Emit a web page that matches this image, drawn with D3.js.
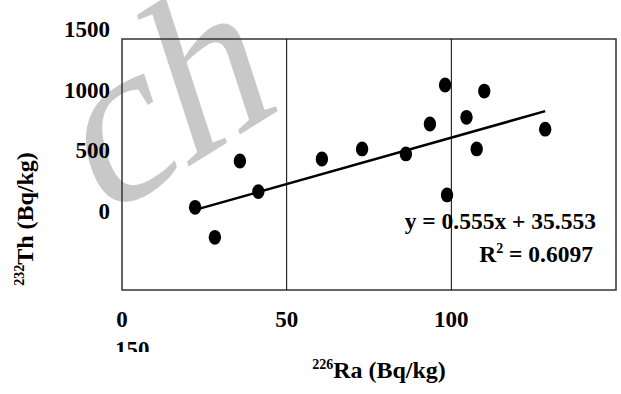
<!DOCTYPE html>
<html>
<head>
<meta charset="utf-8">
<script src="https://cdn.jsdelivr.net/npm/d3@7/dist/d3.min.js"></script>
<style>
  html, body { margin: 0; padding: 0; background: #fff; }
  svg { display: block; }
  text.lbl { font-family: "Liberation Serif", "Times New Roman", serif; font-weight: bold; fill: #000; }
  text.wm { font-family: "Liberation Serif", serif; font-style: normal; font-weight: normal; fill: #c8c8c8; }
</style>
</head>
<body>
<svg id="chart" width="621" height="394"></svg>
<script>
// ---- data ----
const raValues = [22.2, 28.2, 35.8, 41.4, 60.7, 72.9, 86.2, 93.5, 98.1, 98.7, 104.6, 107.7, 110.0, 128.5];
const thValues = [49.4, 31.5, 77.1, 58.8, 78.3, 84.3, 81.3, 99.2, 122.5, 56.8, 103.2, 84.3, 118.9, 96.1];
const xTickLabels = ["0", "50", "100", "150"];
const yTickLabels = ["1500", "1000", "500", "0"];
const gridValues = [50, 100];
const trendSlope = 0.555;
const trendIntercept = 35.553;
const equationText = "y = 0.555x + 35.553";
const r2Text = "0.6097";

const svg = d3.select("#chart");
svg.append("rect").attr("width", 621).attr("height", 394).attr("fill", "#fff");

// watermark
svg.append("text").attr("class", "wm")
  .attr("transform", "translate(100,222) rotate(-32) skewX(-14)")
  .attr("font-size", 225)
  .text("ch");

const x = d3.scaleLinear().domain([0, 150]).range([122, 616]);
const y = d3.scaleLinear().domain([0, 150]).range([290, 39]);
const yLab = d3.scaleLinear().domain([0, 1500]).range([219, 37]);

// frame
svg.append("rect")
  .attr("x", x(0)).attr("y", y(150))
  .attr("width", x(150) - x(0)).attr("height", y(0) - y(150))
  .attr("fill", "none").attr("stroke", "#333").attr("stroke-width", 1.5);

// gridlines
svg.selectAll("line.grid").data(gridValues).join("line")
  .attr("class", "grid")
  .attr("x1", d => x(d)).attr("x2", d => x(d))
  .attr("y1", y(150)).attr("y2", y(0))
  .attr("stroke", "#000").attr("stroke-width", 1);

// y tick labels
svg.selectAll("text.ytick").data(yTickLabels).join("text")
  .attr("class", "ytick lbl")
  .attr("x", 110).attr("y", d => yLab(+d))
  .attr("text-anchor", "end").attr("font-size", 23)
  .text(d => d);

// x tick labels (last one wraps to a second line and is clipped)
svg.append("clipPath").attr("id", "xclip")
  .append("rect").attr("x", 0).attr("y", 300).attr("width", 621).attr("height", 52);
const xt = svg.append("g").attr("clip-path", "url(#xclip)");
xTickLabels.forEach((lab, i) => {
  const v = +lab;
  const last = i === xTickLabels.length - 1;
  xt.append("text").attr("class", "lbl")
    .attr("x", last ? x(0) - 7 : x(v))
    .attr("y", last ? 357 : 327)
    .attr("text-anchor", last ? "start" : "middle")
    .attr("font-size", 23)
    .text(lab);
});

// trend line
const xMin = d3.min(raValues), xMax = d3.max(raValues);
svg.append("line")
  .attr("x1", x(xMin)).attr("y1", y(trendSlope * xMin + trendIntercept))
  .attr("x2", x(xMax)).attr("y2", y(trendSlope * xMax + trendIntercept))
  .attr("stroke", "#000").attr("stroke-width", 2.5);

// points
svg.selectAll("ellipse.pt").data(raValues.map((r, i) => [r, thValues[i]])).join("ellipse")
  .attr("class", "pt")
  .attr("cx", d => x(d[0])).attr("cy", d => y(d[1]))
  .attr("rx", 6.2).attr("ry", 7.4)
  .attr("fill", "#000");

// equation
svg.append("text").attr("class", "lbl")
  .attr("x", 596).attr("y", 229).attr("text-anchor", "end").attr("font-size", 23.5)
  .text(equationText);
const r2 = svg.append("text").attr("class", "lbl")
  .attr("x", 593).attr("y", 262).attr("text-anchor", "end").attr("font-size", 23.5);
r2.append("tspan").text("R");
r2.append("tspan").attr("font-size", 14).attr("dy", -9).text("2");
r2.append("tspan").attr("dy", 9).text(" = " + r2Text);

// axis titles
const xTitle = svg.append("text").attr("class", "lbl")
  .attr("x", 379).attr("y", 378).attr("text-anchor", "middle").attr("font-size", 24);
xTitle.append("tspan").attr("font-size", 14).attr("dy", -9).text("226");
xTitle.append("tspan").attr("dy", 9).text("Ra (Bq/kg)");

const yTitle = svg.append("text").attr("class", "lbl")
  .attr("transform", "translate(33,219) rotate(-90)")
  .attr("text-anchor", "middle").attr("font-size", 24);
yTitle.append("tspan").attr("font-size", 14).attr("dy", -9).text("232");
yTitle.append("tspan").attr("dy", 9).text("Th (Bq/kg)");
</script>
</body>
</html>
